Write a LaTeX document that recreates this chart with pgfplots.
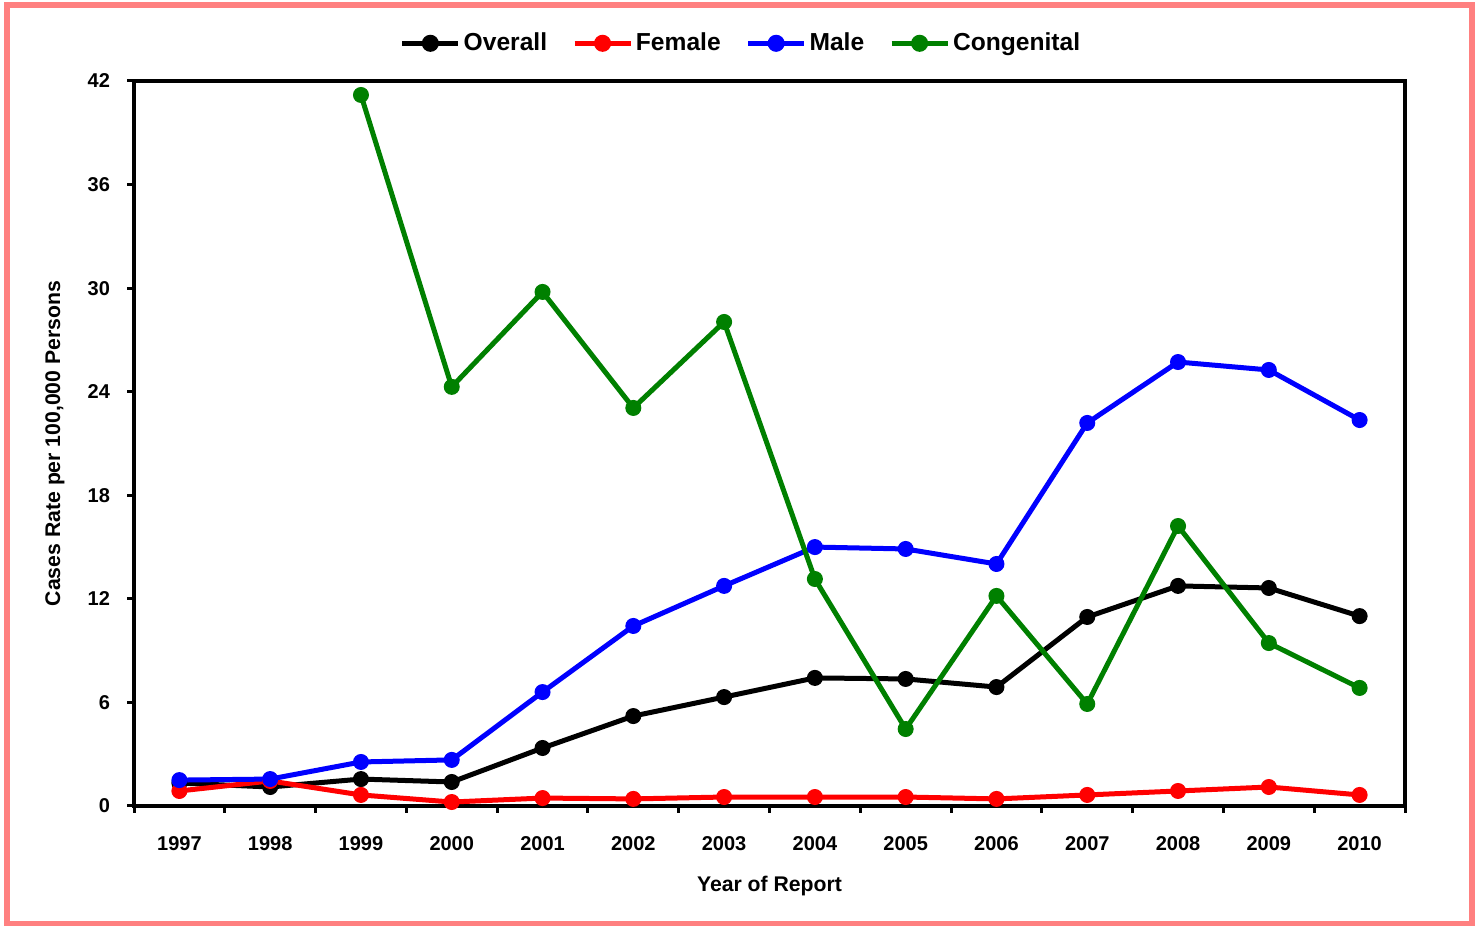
\documentclass[border=0pt]{standalone}
\usepackage{pgfplots}
\pgfplotsset{compat=1.18}
\usepackage{fontspec}
\setmainfont{Liberation Sans}

\definecolor{framepink}{RGB}{255,128,128}
\definecolor{cgreen}{RGB}{0,128,0}

\pgfplotsset{
  series/.style={line width=2.5pt, mark=*, mark size=3.7pt,
    mark options={solid, line width=0.6pt}},
}

\begin{document}
\begin{tikzpicture}
\useasboundingbox (0,0) rectangle (739.5pt,463pt);
\draw[framepink, line width=3pt] (3.5pt,0.9pt) rectangle (735.75pt,460.6pt);
\begin{axis}[
  at={(67pt,60pt)}, anchor=south west,
  scale only axis, width=635.5pt, height=362.5pt,
  xmin=1996.5, xmax=2010.5, ymin=0, ymax=42,
  xtick={1996.5,1997.5,1998.5,1999.5,2000.5,2001.5,2002.5,2003.5,2004.5,2005.5,2006.5,2007.5,2008.5,2009.5,2010.5},
  x tick label as interval,
  xticklabels={1997,1998,1999,2000,2001,2002,2003,2004,2005,2006,2007,2008,2009,2010},
  ytick={0,6,...,42},
  tick align=outside, tick pos=left,
  major tick length=3.5pt,
  axis line style={line width=1.6pt},
  every tick/.style={line width=1.5pt, black},
  xtick style={line width=1.5pt, black},
  ytick style={line width=1.5pt, black},
  /pgf/number format/assume math mode=true,
  ticklabel style={font=\fontsize{10}{12}\selectfont\bfseries},
  yticklabel style={xshift=-5pt},
  xticklabel style={yshift=-8pt},
  xlabel={Year of Report},
  ylabel={Cases Rate per 100,000 Persons},
  label style={font=\fontsize{10.6}{12}\selectfont\bfseries},
  xlabel style={at={(axis description cs:0.5,-0.11)}, anchor=center},
  ylabel style={at={(axis description cs:-0.0622,0.5)}, anchor=center},
  legend columns=-1,
  legend style={draw=none, at={(0.478,1.052)}, anchor=center,
    font=\fontsize{12.3}{14}\selectfont\bfseries,
    nodes={inner xsep=1.5pt},
    /tikz/every even column/.append style={column sep=11pt}},
  legend image code/.code={
    \draw[#1, line width=2.4pt] (0pt,0pt) -- (28pt,0pt);
    \fill[#1] (14pt,0pt) circle (3pt);
  },
]
\addplot[series, black] coordinates {
  (1997,1.33) (1998,1.10) (1999,1.56) (2000,1.39) (2001,3.36) (2002,5.21) (2003,6.31)
  (2004,7.42) (2005,7.36) (2006,6.89) (2007,10.95) (2008,12.75) (2009,12.63) (2010,11.00)};
\addlegendentry{Overall}
\addplot[series, red] coordinates {
  (1997,0.87) (1998,1.45) (1999,0.64) (2000,0.23) (2001,0.46) (2002,0.41) (2003,0.52)
  (2004,0.52) (2005,0.52) (2006,0.41) (2007,0.64) (2008,0.87) (2009,1.10) (2010,0.64)};
\addlegendentry{Female}
\addplot[series, blue] coordinates {
  (1997,1.50) (1998,1.56) (1999,2.55) (2000,2.67) (2001,6.60) (2002,10.43) (2003,12.75)
  (2004,15.00) (2005,14.89) (2006,14.02) (2007,22.19) (2008,25.72) (2009,25.26) (2010,22.36)};
\addlegendentry{Male}
\addplot[series, cgreen] coordinates {
  (1999,41.19) (2000,24.28) (2001,29.78) (2002,23.06) (2003,28.04) (2004,13.15)
  (2005,4.46) (2006,12.17) (2007,5.91) (2008,16.22) (2009,9.44) (2010,6.84)};
\addlegendentry{Congenital}
\end{axis}
\end{tikzpicture}
\end{document}
